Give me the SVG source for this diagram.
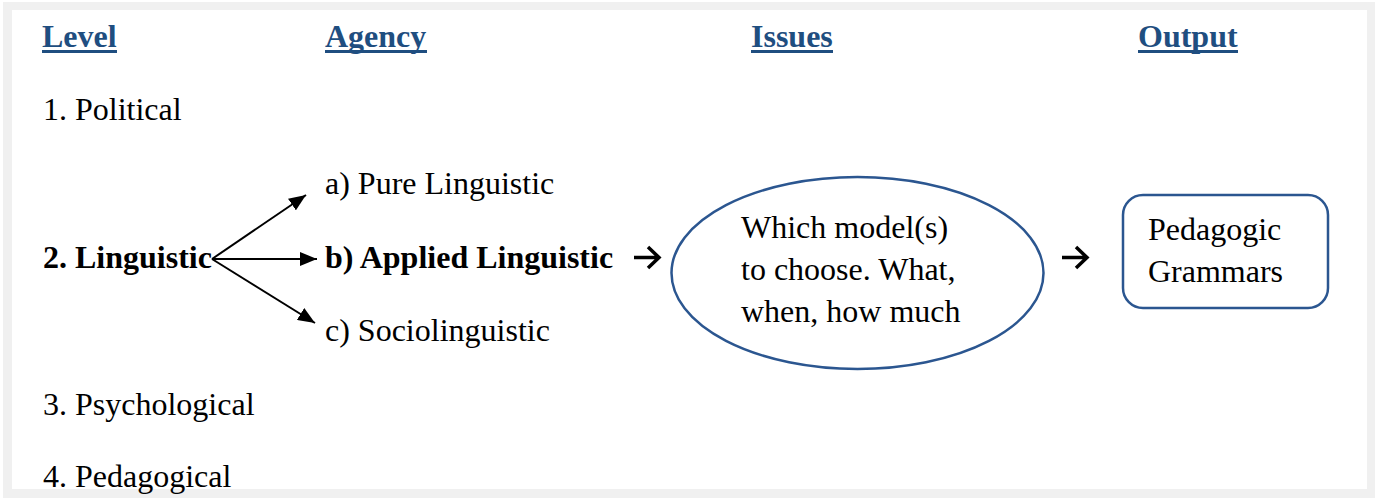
<svg xmlns="http://www.w3.org/2000/svg" width="1377" height="501" viewBox="0 0 1377 501">
  <style>
    text { font-family: 'Liberation Serif', 'DejaVu Serif', serif; font-size: 32px; fill: #000; }
    .hd { font-weight: bold; fill: #1f4e80; }
    .ul { fill: #1f4e80; }
    .bd { font-weight: bold; }
    .shape { fill: #fff; stroke: #2b5690; stroke-width: 2.5; }
    .conn { stroke: #000; stroke-width: 2; fill: none; }
    .bigarrow { stroke: #000; stroke-width: 3.5; fill: none; stroke-linecap: butt; stroke-linejoin: miter; }
  </style>
  <defs>
    <marker id="tri" viewBox="0 0 10 10" refX="10" refY="5" markerWidth="17" markerHeight="14" markerUnits="userSpaceOnUse" orient="auto" preserveAspectRatio="none">
      <path d="M0,0 L10,5 L0,10 Z" fill="#000"/>
    </marker>
  </defs>

  <!-- page frame -->
  <rect x="3" y="2" width="1372" height="496" fill="#f0f0f0"/>
  <rect x="12" y="10" width="1355" height="479" fill="#fff"/>

  <!-- column headings -->
  <g id="headings">
    <text class="hd" x="42" y="47" font-family="Liberation Serif, serif">Level</text>
    <rect class="ul" x="42" y="50" width="75" height="3"/>
    <text class="hd" x="325" y="47" font-family="Liberation Serif, serif">Agency</text>
    <rect class="ul" x="325" y="50" width="102" height="3"/>
    <text class="hd" x="751" y="47" font-family="Liberation Serif, serif">Issues</text>
    <rect class="ul" x="751" y="50" width="82" height="3"/>
    <text class="hd" x="1138" y="47" font-family="Liberation Serif, serif">Output</text>
    <rect class="ul" x="1138" y="50" width="100" height="3"/>
  </g>

  <!-- levels -->
  <g id="level-political"><text x="43" y="120">1. Political</text></g>
  <g id="level-linguistic"><text class="bd" x="43" y="268">2. Linguistic</text></g>
  <g id="level-psychological"><text x="43" y="415">3. Psychological</text></g>
  <g id="level-pedagogical"><text x="43" y="487">4. Pedagogical</text></g>

  <!-- agencies -->
  <g id="agency-pure"><text x="325" y="194">a) Pure Linguistic</text></g>
  <g id="agency-applied"><text class="bd" x="325" y="268">b) Applied Linguistic</text></g>
  <g id="agency-socio"><text x="325" y="341">c) Sociolinguistic</text></g>

  <!-- issues -->
  <g id="issues">
    <ellipse class="shape" cx="857.5" cy="273" rx="186" ry="96"/>
    <text x="741" y="238">Which model(s)</text>
    <text x="741" y="280">to choose. What,</text>
    <text x="741" y="322">when, how much</text>
  </g>

  <!-- output -->
  <g id="output">
    <rect class="shape" x="1123" y="195" width="205" height="113" rx="20" ry="20"/>
    <text x="1148" y="240">Pedagogic</text>
    <text x="1148" y="282">Grammars</text>
  </g>

  <!-- connectors -->
  <g id="connectors">
    <line class="conn" x1="212" y1="259" x2="306" y2="195" marker-end="url(#tri)"/>
    <line class="conn" x1="212" y1="259" x2="317" y2="259" marker-end="url(#tri)"/>
    <line class="conn" x1="212" y1="259" x2="315" y2="323" marker-end="url(#tri)"/>
    <path class="bigarrow" d="M634,257.5 H658 M648,247 L659,257.5 L648,268"/>
    <path class="bigarrow" d="M1062,257.5 H1086 M1076,247 L1087,257.5 L1076,268"/>
  </g>
</svg>
